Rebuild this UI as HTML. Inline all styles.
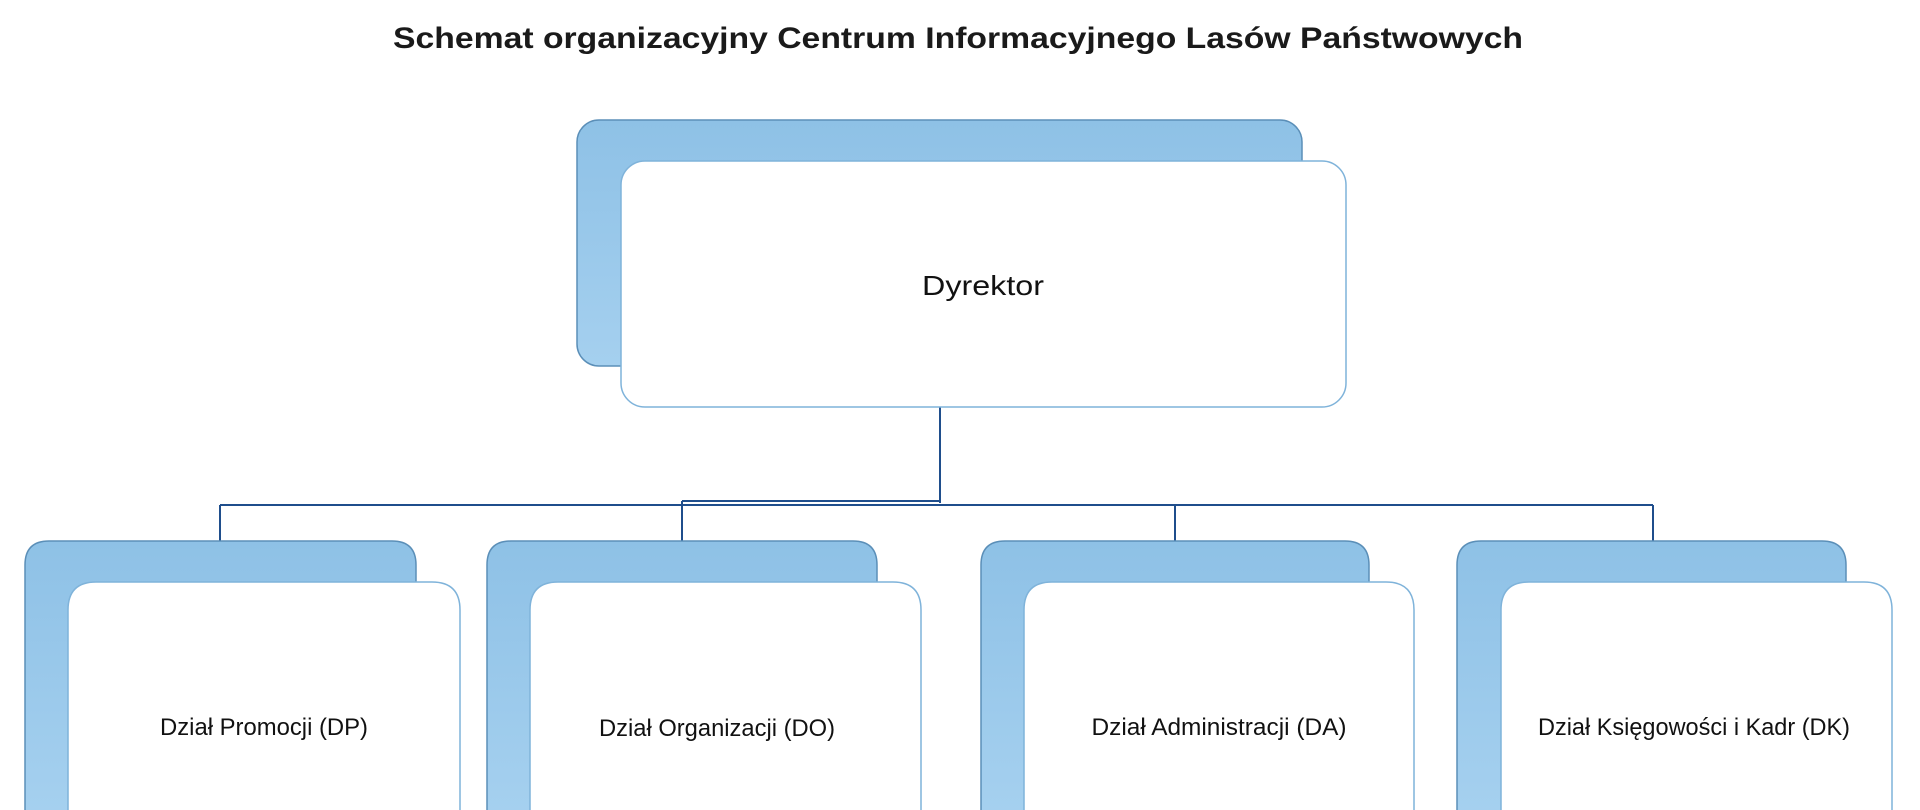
<!DOCTYPE html>
<html><head><meta charset="utf-8"><style>
html,body{margin:0;padding:0;background:#fff;width:1920px;height:810px;overflow:hidden}
svg{display:block}
</style></head><body>
<svg width="1920" height="810" viewBox="0 0 1920 810" xmlns="http://www.w3.org/2000/svg">
<defs>
<linearGradient id="bg" x1="0" y1="0" x2="0" y2="1">
<stop offset="0" stop-color="#8ec1e6"/><stop offset="1" stop-color="#a5d0ef"/>
</linearGradient>
</defs>
<text x="958" y="48" text-anchor="middle" font-family="Liberation Sans, sans-serif" font-weight="bold" font-size="30" fill="#1a1a1a" textLength="1130" lengthAdjust="spacingAndGlyphs">Schemat organizacyjny Centrum Informacyjnego Lasów Państwowych</text>

<g stroke="#1f4e8c" stroke-width="2" fill="none">
<line x1="940" y1="407" x2="940" y2="503"/>
<line x1="220" y1="505" x2="1653" y2="505"/>
<line x1="682" y1="501" x2="940" y2="501"/>
<line x1="220" y1="505" x2="220" y2="542"/>
<line x1="682" y1="501" x2="682" y2="542"/>
<line x1="1175" y1="505" x2="1175" y2="542"/>
<line x1="1653" y1="505" x2="1653" y2="542"/>
</g>

<rect x="577" y="120" width="725" height="246" rx="22" fill="url(#bg)" stroke="#5b8fb8" stroke-width="1.5"/>
<rect x="621" y="161" width="725" height="246" rx="24" fill="#fff" stroke="#7fb3da" stroke-width="1.5"/>
<text x="983" y="295" text-anchor="middle" font-family="Liberation Sans, sans-serif" font-size="28" fill="#111" textLength="122" lengthAdjust="spacingAndGlyphs">Dyrektor</text>

<g font-family="Liberation Sans, sans-serif" font-size="24" fill="#111" text-anchor="middle">
<path d="M25 810 V565 Q25 541 49 541 H392 Q416 541 416 565 V810" fill="url(#bg)" stroke="#5b8fb8" stroke-width="1.5"/>
<path d="M68 810 V610 Q68 582 96 582 H432 Q460 582 460 610 V810" fill="#fff" stroke="#7fb3da" stroke-width="1.5"/>
<text x="264" y="735" textLength="208" lengthAdjust="spacingAndGlyphs">Dział Promocji (DP)</text>

<path d="M487 810 V565 Q487 541 511 541 H853 Q877 541 877 565 V810" fill="url(#bg)" stroke="#5b8fb8" stroke-width="1.5"/>
<path d="M530 810 V610 Q530 582 558 582 H893 Q921 582 921 610 V810" fill="#fff" stroke="#7fb3da" stroke-width="1.5"/>
<text x="717" y="736" textLength="236" lengthAdjust="spacingAndGlyphs">Dział Organizacji (DO)</text>

<path d="M981 810 V565 Q981 541 1005 541 H1345 Q1369 541 1369 565 V810" fill="url(#bg)" stroke="#5b8fb8" stroke-width="1.5"/>
<path d="M1024 810 V610 Q1024 582 1052 582 H1386 Q1414 582 1414 610 V810" fill="#fff" stroke="#7fb3da" stroke-width="1.5"/>
<text x="1219" y="735" textLength="255" lengthAdjust="spacingAndGlyphs">Dział Administracji (DA)</text>

<path d="M1457 810 V565 Q1457 541 1481 541 H1822 Q1846 541 1846 565 V810" fill="url(#bg)" stroke="#5b8fb8" stroke-width="1.5"/>
<path d="M1501 810 V610 Q1501 582 1529 582 H1864 Q1892 582 1892 610 V810" fill="#fff" stroke="#7fb3da" stroke-width="1.5"/>
<text x="1694" y="735" textLength="312" lengthAdjust="spacingAndGlyphs">Dział Księgowości i Kadr (DK)</text>
</g>
</svg>
</body></html>
